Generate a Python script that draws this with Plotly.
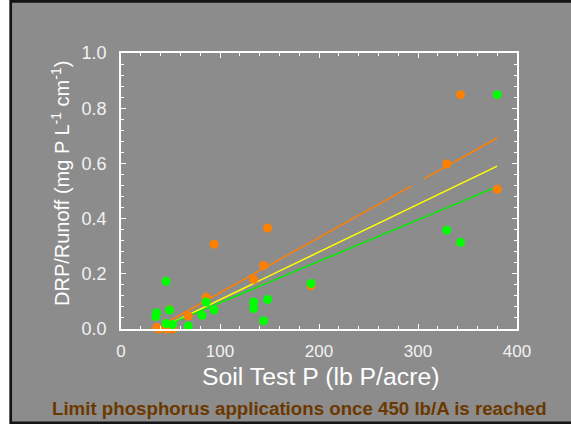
import plotly.graph_objects as go

# ---- data ----
orange_x = [36, 38, 46, 52, 49, 68, 86, 94, 134, 144, 148, 192, 329, 343, 380]
orange_y = [0.005, 0.0, 0.0, 0.0, 0.07, 0.047, 0.115, 0.307, 0.18, 0.23, 0.366, 0.157, 0.598, 0.849, 0.506]

green_x = [45.5, 36, 35, 49, 45.5, 52, 68, 82, 86, 94, 134, 134, 144, 148, 192, 329, 343, 380]
green_y = [0.173, 0.059, 0.045, 0.069, 0.02, 0.016, 0.011, 0.05, 0.098, 0.069, 0.098, 0.074, 0.03, 0.107, 0.165, 0.358, 0.314, 0.849]

# fitted regression lines (end points; orange line has a small gap)
orange_fit_x = [49, 293, None, 306, 380]
orange_fit_y = [0.029, 0.518, None, 0.544, 0.692]
yellow_fit_x = [50, 380]
yellow_fit_y = [0.02, 0.59]
green_fit_x = [40, 380]
green_fit_y = [0.005, 0.516]

x_ticks = [0, 100, 200, 300, 400]
y_ticks = [0.0, 0.2, 0.4, 0.6, 0.8, 1.0]
y_ticklabels = ["0.0", "0.2", "0.4", "0.6", "0.8", "1.0"]

x_title = "Soil Test P (lb P/acre)"
y_title = "DRP/Runoff (mg P L<sup>-1</sup> cm<sup>-1</sup>)"
note = "Limit phosphorus applications once 450 lb/A is reached"

# ---- layout geometry (pixels) ----
W, H = 571, 424
L, R, T, B = 121, 517, 53, 329
pw, ph = R - L, B - T


def px_x(p):
    return (p - L) / pw


def px_y(p):
    return (B - p) / ph


GRAY = "#8c8c8c"
FONT = "Arial, Liberation Sans, sans-serif"

fig = go.Figure()
fig.add_trace(go.Scatter(x=orange_fit_x, y=orange_fit_y, mode="lines",
                         line=dict(color="#ff8000", width=1.5), hoverinfo="skip"))
fig.add_trace(go.Scatter(x=yellow_fit_x, y=yellow_fit_y, mode="lines",
                         line=dict(color="#ffff00", width=1.5), hoverinfo="skip"))
fig.add_trace(go.Scatter(x=green_fit_x, y=green_fit_y, mode="lines",
                         line=dict(color="#00f000", width=1.5), hoverinfo="skip"))
fig.add_trace(go.Scatter(x=orange_x, y=orange_y, mode="markers", cliponaxis=False,
                         marker=dict(color="#ff8000", size=9, line=dict(width=0))))
fig.add_trace(go.Scatter(x=green_x, y=green_y, mode="markers", cliponaxis=False,
                         marker=dict(color="#00ff00", size=9, line=dict(width=0))))

axis_common = dict(
    showline=True, linecolor="white", linewidth=1.5, mirror="allticks",
    ticks="inside", ticklen=5, tickwidth=1.2, tickcolor="white",
    showgrid=False, zeroline=False,
)

fig.update_xaxes(range=[0, 400], tickvals=x_ticks, ticklabelstandoff=6,
                 tickfont=dict(family=FONT, size=17, color="#f2f2f2"),
                 minor=dict(ticks="inside", ticklen=3, tickwidth=1, tickcolor="white", dtick=20),
                 **axis_common)
fig.update_yaxes(range=[0, 1], tickvals=y_ticks, ticktext=y_ticklabels, ticklabelstandoff=9,
                 tickfont=dict(family=FONT, size=18, color="#f2f2f2"),
                 minor=dict(ticks="inside", ticklen=3, tickwidth=1, tickcolor="white", dtick=0.04),
                 **axis_common)

fig.update_layout(
    width=W, height=H,
    margin=dict(l=L, r=W - R, t=T, b=H - B, pad=0),
    paper_bgcolor="white", plot_bgcolor=GRAY,
    showlegend=False,
    shapes=[dict(type="rect", xref="paper", yref="paper", layer="below",
                 x0=px_x(10.7), x1=px_x(580), y0=px_y(422.8), y1=px_y(1.3),
                 fillcolor=GRAY, line=dict(color="#141414", width=2.7))],
    annotations=[
        dict(text=x_title, xref="paper", yref="paper", x=px_x(321), y=px_y(377),
             xanchor="center", yanchor="middle", showarrow=False,
             font=dict(family=FONT, size=24.8, color="white")),
        dict(text=y_title, xref="paper", yref="paper", x=px_x(60), y=px_y(184),
             xanchor="center", yanchor="middle", showarrow=False, textangle=-90,
             font=dict(family=FONT, size=20, color="white")),
        dict(text="<b>" + note + "</b>", xref="paper", yref="paper", x=px_x(299), y=px_y(408.5),
             xanchor="center", yanchor="middle", showarrow=False,
             font=dict(family=FONT, size=18.7, color="#6b3800")),
    ],
)

fig.write_html("out.html")
